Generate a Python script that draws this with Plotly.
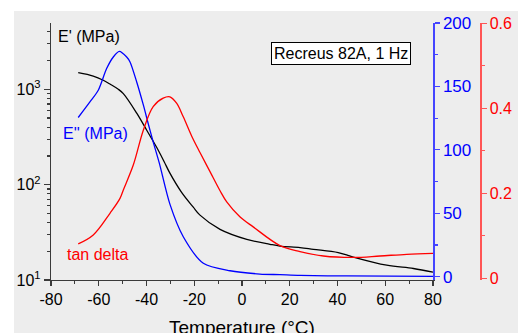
import plotly.graph_objects as go

# ---------------- data ----------------
temp_storage = [-68.6, -62.3, -58.1, -55.3, -51.8, -49.7, -44.1, -39.9, -35.7, -32.6,
                -30.2, -25.3, -20.4, -17.6, -9.2, 2.0, 11.7, 15.9, 24.3, 29.9,
                40.3, 46.6, 60.6, 71.8, 80.0]
storage_modulus = [1496, 1378, 1245, 1135, 1000, 900, 562, 372, 245, 174,
                   132, 83, 58, 47.9, 34.0, 26.7, 23.7, 22.7, 21.9, 21.0,
                   19.4, 17.4, 14.3, 13.2, 12.1]

temp_loss = [-68.6, -63.7, -60.2, -56.7, -53.9, -51.4, -48.3, -46.9, -44.1, -41.3,
             -39.3, -37.2, -34.6, -30.2, -24.6, -16.2, -5.0, 7.5, 15.9, 24.3,
             43.9, 80.0]
loss_modulus = [125.5, 137.8, 147.0, 164.1, 173.2, 177.7, 173.2, 169.3, 153.5, 135.2,
                120.8, 106.3, 89.3, 57.2, 31.5, 10.6, 4.7, 2.1, 1.6, 1.0,
                0.6, 0.3]

temp_tan = [-68.6, -62.3, -55.3, -51.1, -49.7, -45.5, -41.3, -37.2, -33.0, -30.2,
            -27.4, -24.6, -21.1, -17.6, -13.4, -9.2, -6.4, -0.9, 4.7, 15.9,
            24.3, 34.1, 46.6, 57.8, 69.0, 80.0]
tan_delta = [0.081, 0.102, 0.153, 0.188, 0.208, 0.267, 0.349, 0.404, 0.424, 0.427,
             0.412, 0.380, 0.335, 0.296, 0.251, 0.206, 0.180, 0.145, 0.121, 0.077,
             0.063, 0.0525, 0.049, 0.0525, 0.0565, 0.0588]

x_ticks = [-80, -60, -40, -20, 0, 20, 40, 60, 80]
x_tick_text = ["-80", "-60", "-40", "-20", "0", "20", "40", "60", "80"]
log_tick_vals = [10, 100, 1000]
log_tick_text = ["10<sup>1</sup>", "10<sup>2</sup>", "10<sup>3</sup>"]
loss_ticks = [0, 50, 100, 150, 200]
tan_ticks = [0, 0.2, 0.4, 0.6]
tan_tick_text = ["0", "0.2", "0.4", "0.6"]

# ---------------- layout helpers ----------------
W, H = 525, 333
L, R, T, B = 51, 45, 23, 53
PW, PH = W - L - R, H - T - B


def fx(p):
    return (p - L) / PW


def fy(p):
    return (H - B - p) / PH


FONT = "Liberation Sans, Arial, sans-serif"
GREY = "#ededed"
AX = "#3a3a3a"
BLUE = "#0000ff"
RED = "#ff0000"
BLUE_AX = "#4444ff"
RED_AX = "#ff5555"

minor_log = [m * 10 ** d for d in (1, 2, 3) for m in range(2, 10)]

fig = go.Figure()
fig.add_trace(go.Scatter(x=temp_storage, y=storage_modulus, mode="lines",
                         line=dict(color="black", width=1.3, shape="spline", smoothing=1.0),
                         yaxis="y", name="E'"))
fig.add_trace(go.Scatter(x=temp_loss, y=loss_modulus, mode="lines",
                         line=dict(color=BLUE, width=1.3, shape="spline", smoothing=0.8),
                         yaxis="y2", name="E''"))
fig.add_trace(go.Scatter(x=temp_tan, y=tan_delta, mode="lines",
                         line=dict(color=RED, width=1.3, shape="spline", smoothing=1.0),
                         yaxis="y3", name="tan delta"))

fig.update_layout(
    width=W, height=H,
    margin=dict(l=L, r=R, t=T, b=B, pad=0),
    paper_bgcolor="white",
    plot_bgcolor=GREY,
    showlegend=False,
    hovermode=False,
    font=dict(family=FONT, size=16, color="black"),
    xaxis=dict(domain=[0, fx(433)], range=[-80, 80], tickvals=x_ticks, ticktext=x_tick_text,
               showgrid=False, zeroline=False, showline=True, linecolor=AX, linewidth=1.2,
               ticks="outside", ticklen=5, tickcolor=AX, tickwidth=1.2,
               minor=dict(dtick=10, tick0=-80, ticks="outside", ticklen=3, tickcolor=AX),
               tickfont=dict(size=16)),
    yaxis=dict(type="log", range=[1, 1 + (H - B - T) / 95.35],
               tickvals=log_tick_vals, ticktext=log_tick_text,
               showgrid=False, zeroline=False, showline=True, linecolor=AX, linewidth=1.2,
               ticks="outside", ticklen=6, tickcolor=AX, tickwidth=1.2,
               minor=dict(tickvals=minor_log, ticks="outside", ticklen=3, tickcolor=AX),
               tickfont=dict(size=16)),
    yaxis2=dict(overlaying="y", side="right", anchor="x", range=[-2.6, 200],
                tickvals=loss_ticks, showgrid=False, zeroline=False,
                showline=True, linecolor=BLUE_AX, linewidth=1.5,
                ticks="outside", ticklen=5, tickcolor=BLUE_AX, tickwidth=1.2,
                minor=dict(dtick=25, tick0=0, ticks="outside", ticklen=3, tickcolor=BLUE_AX),
                tickfont=dict(size=17, color=BLUE)),
    yaxis3=dict(overlaying="y", side="right", anchor="free", position=1.0,
                range=[-0.004, 0.6007], tickvals=tan_ticks, ticktext=tan_tick_text,
                showgrid=False, zeroline=False,
                showline=True, linecolor=RED_AX, linewidth=1.5,
                ticks="outside", ticklen=5, tickcolor=RED_AX, tickwidth=1.2,
                minor=dict(dtick=0.1, tick0=0, ticks="outside", ticklen=3, tickcolor=RED_AX),
                tickfont=dict(size=16, color=RED)),
    shapes=[dict(type="rect", xref="paper", yref="paper",
                 x0=fx(14), x1=fx(518), y0=fy(H), y1=fy(11),
                 fillcolor=GREY, line=dict(width=0), layer="below")],
    annotations=[
        dict(text="E' (MPa)", xref="paper", yref="paper", x=fx(56), y=fy(36),
             xanchor="left", yanchor="middle", showarrow=False,
             font=dict(size=16, color="black")),
        dict(text="E'' (MPa)", xref="paper", yref="paper", x=fx(61), y=fy(133),
             xanchor="left", yanchor="middle", showarrow=False,
             font=dict(size=16, color=BLUE)),
        dict(text="tan delta", xref="paper", yref="paper", x=fx(65), y=fy(254),
             xanchor="left", yanchor="middle", showarrow=False,
             font=dict(size=16, color=RED)),
        dict(text="Recreus 82A, 1 Hz", xref="paper", yref="paper", x=fx(341), y=fy(53.5),
             xanchor="center", yanchor="middle", showarrow=False,
             font=dict(size=16, color="black"),
             bgcolor="white", bordercolor="black", borderwidth=1, borderpad=2),
        dict(text="Temperature (°C)", xref="paper", yref="paper", x=fx(242), y=fy(327),
             xanchor="center", yanchor="middle", showarrow=False,
             font=dict(size=19, color="black")),
    ],
)

fig.write_html("out.html",
               config={"displayModeBar": False, "staticPlot": True},
               post_script="document.body.style.margin='0';document.body.style.overflow='hidden';")
